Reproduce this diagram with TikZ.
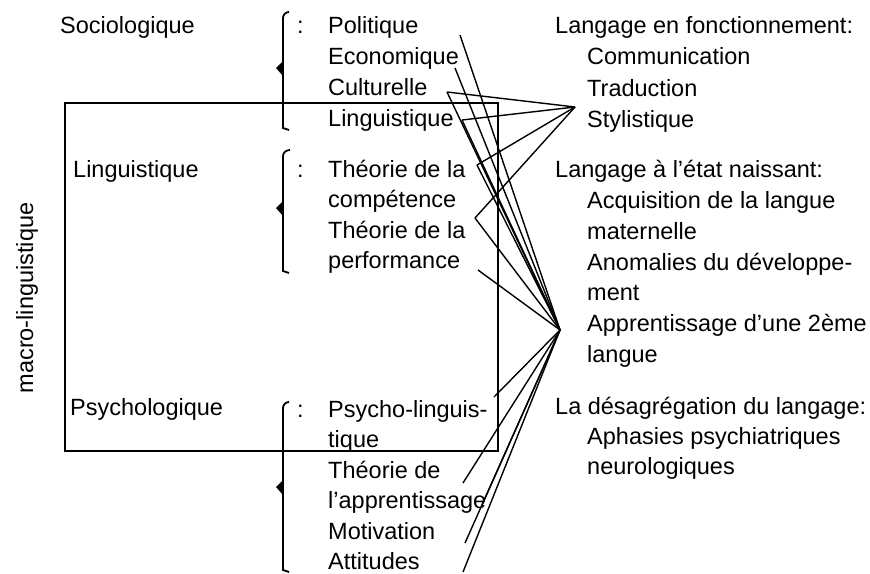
\documentclass[tikz,border=0pt]{standalone}
\usepackage{fontspec}
\setmainfont{Liberation Sans}
\begin{document}
\begin{tikzpicture}[x=1pt,y=-1pt,
  txt/.style={anchor=base west,inner sep=0pt,font=\fontsize{23.5}{28}\selectfont},
  conn/.style={line width=1.4pt},
  frame/.style={line width=1.8pt},
  bracestyle/.style={line width=1.8pt}]
\useasboundingbox (0,0) rectangle (870,573);

% frame
\draw[frame] (65,103) rectangle (498,451);

% left labels
\node[txt] (soc) at (60,33) {Sociologique};
\node[txt] (lingL) at (73,177) {Linguistique};
\node[txt] (psyL) at (70,415) {Psychologique};
\node[anchor=base,inner sep=0pt,font=\fontsize{23.5}{28}\selectfont,rotate=90] (macro) at (33,298) {macro-linguistique};

% brackets
\draw[bracestyle] (289,12) to[out=180,in=90] (283,18) -- (283,128) -- (289,130);
\fill (283,61) -- (276,68) -- (283,76) -- cycle;
\draw[bracestyle] (290,150) to[out=180,in=90] (283,156) -- (283,271) -- (289,273);
\fill (283,201) -- (276,208) -- (283,216) -- cycle;
\draw[bracestyle] (289,402) to[out=180,in=90] (283,408) -- (283,570) -- (289,572);
\fill (283,480) -- (276,487) -- (283,495) -- cycle;

% colons
\node[txt] (c1) at (297,33) {:};
\node[txt] (c2) at (297,177) {:};
\node[txt] (c3) at (297,417) {:};

% middle column
\node[txt] (pol) at (328,33) {Politique};
\node[txt] (eco) at (328,64) {Economique};
\node[txt] (cul) at (328,95) {Culturelle};
\node[txt] (lin) at (328,126) {Linguistique};
\node[txt] (tc1) at (328,177) {Théorie de la};
\node[txt] (com) at (328,207) {compétence};
\node[txt] (tc2) at (328,238) {Théorie de la};
\node[txt] (per) at (328,268) {performance};
\node[txt] (psy) at (328,417) {Psycho-linguis-};
\node[txt] (tiq) at (328,447) {tique};
\node[txt] (thd) at (328,478) {Théorie de};
\node[txt] (app) at (328,508) {l’apprentissage};
\node[txt] (mot) at (328,539) {Motivation};
\node[txt] (att) at (328,569) {Attitudes};

% right column
\node[txt] (r1) at (555,33) {Langage en fonctionnement:};
\node[txt] (r2) at (587,64) {Communication};
\node[txt] (r3) at (587,96) {Traduction};
\node[txt] (r4) at (587,127) {Stylistique};
\node[txt] (r5) at (555,177) {Langage à l’état naissant:};
\node[txt] (r6) at (587,208) {Acquisition de la langue};
\node[txt] (r7) at (587,239) {maternelle};
\node[txt] (r8) at (587,270) {Anomalies du développe-};
\node[txt] (r9) at (587,300) {ment};
\node[txt] (r10) at (587,331) {Apprentissage d’une 2ème};
\node[txt] (r11) at (587,362) {langue};
\node[txt] (r12) at (555,414) {La désagrégation du langage:};
\node[txt] (r13) at (587,444) {Aphasies psychiatriques};
\node[txt] (r14) at (587,474) {neurologiques};

% convergence points
\coordinate (P1) at (575,107);
\coordinate (P2) at (560,330);

% line ends
\coordinate (ePol) at (460,35);
\coordinate (eEco) at (455,68);
\coordinate (eCul) at (447,92);
\coordinate (eLin) at (462,120);
\coordinate (eTc1) at (477,165);
\coordinate (eCom) at (475,218);
\coordinate (ePer) at (478,270);
\coordinate (ePsy) at (494,397);
\coordinate (eThd) at (463,483);
\coordinate (eApp) at (482,505);
\coordinate (eMot) at (465,543);
\coordinate (eAtt) at (463,572);

% connectors to P1
\foreach \e in {eCul,eLin,eTc1,eCom} \draw[conn] (\e) -- (P1);
% connectors to P2
\foreach \e in {ePol,eEco,eCul,eLin,eTc1,eCom,ePer,ePsy,eThd,eApp,eMot,eAtt} \draw[conn] (\e) -- (P2);
\end{tikzpicture}
\end{document}
